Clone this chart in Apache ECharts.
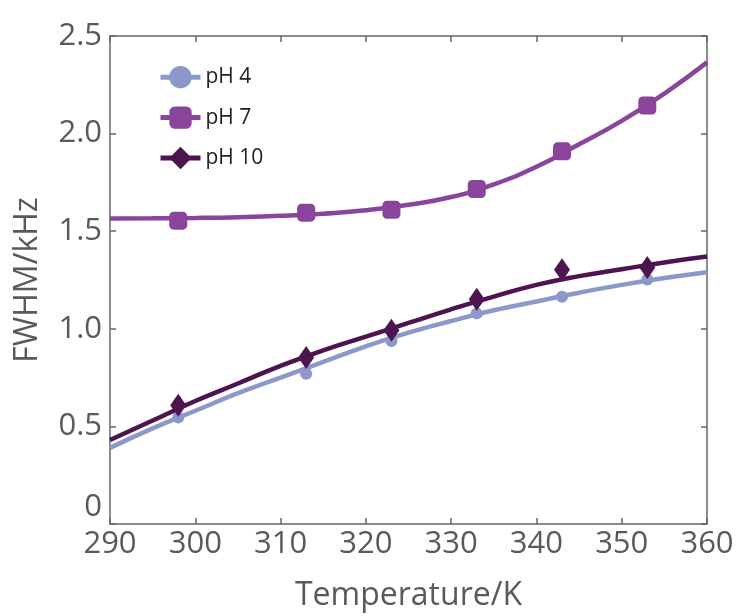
<!DOCTYPE html>
<html>
<head>
<meta charset="utf-8">
<script src="https://cdn.jsdelivr.net/npm/echarts@6/dist/echarts.min.js"></script>
<style>
  html, body { margin: 0; padding: 0; background: #fff; }
  #chart { width: 749px; height: 616px; }
</style>
</head>
<body>
<div id="chart"></div>
<script>
// Measured line widths (FWHM) at each temperature
const temps = [298, 313, 323, 333, 343, 353];
const ph4 = [0.545, 0.770, 0.938, 1.079, 1.164, 1.252];
const ph7 = [1.554, 1.595, 1.610, 1.716, 1.909, 2.144];
const ph10 = [0.608, 0.853, 0.993, 1.151, 1.303, 1.314];

// Fitted curves
const fitTemps = [290, 295, 300, 305, 310, 315, 320, 325, 330, 335, 340, 345, 350, 355, 360];
const fit4 = [0.39, 0.49, 0.58, 0.67, 0.75, 0.83, 0.91, 0.98, 1.04, 1.095, 1.14, 1.185, 1.225, 1.26, 1.29];
const fit7 = [1.565, 1.566, 1.568, 1.572, 1.579, 1.59, 1.607, 1.635, 1.675, 1.74, 1.83, 1.945, 2.065, 2.205, 2.365];
const fit10 = [0.43, 0.53, 0.63, 0.72, 0.81, 0.89, 0.96, 1.03, 1.10, 1.165, 1.225, 1.27, 1.305, 1.34, 1.37];

const seriesNames = ['pH 4', 'pH 7', 'pH 10'];
const xTicks = { min: 290, max: 360, step: 10 };
const yTicks = { min: 0, max: 2.5, step: 0.5 };

const FONT = "'Open Sans', sans-serif";
const AXIS_GREY = '#666666';
const LABEL_GREY = '#5a5a5a';
const colors = ['#8C98CA', '#8A449B', '#4E1450'];
const symbols = ['circle', 'roundRect', 'diamond'];
const markerSizes = [12, 18, [16, 23]];

const pairs = (xs, ys) => xs.map((x, i) => [x, ys[i]]);
const fits = [fit4, fit7, fit10];
const points = [ph4, ph7, ph10];

const boxAxis = (extra) => Object.assign({
  type: 'value',
  axisLine: { show: true, onZero: false, lineStyle: { color: AXIS_GREY, width: 1.5 } },
  axisTick: { show: true, inside: true, length: 6, lineStyle: { color: AXIS_GREY, width: 1.5 } },
  splitLine: { show: false }
}, extra);

const curveSeries = fits.map((f, i) => ({
  name: seriesNames[i],
  type: 'line',
  data: pairs(fitTemps, f),
  smooth: 0.5,
  symbol: symbols[i],
  showSymbol: false,
  lineStyle: { color: colors[i], width: 4.5 },
  itemStyle: { color: colors[i] },
  z: 2,
  silent: true
}));

const pointSeries = points.map((p, i) => ({
  name: seriesNames[i],
  type: 'scatter',
  data: pairs(temps, p),
  symbol: symbols[i],
  symbolSize: markerSizes[i],
  itemStyle: { color: colors[i], opacity: 1 },
  z: 3 + i
}));

const chart = echarts.init(document.getElementById('chart'), null, { renderer: 'canvas' });
chart.setOption({
  animation: false,
  backgroundColor: '#ffffff',
  textStyle: { fontFamily: FONT },
  grid: { left: 110, right: 42, top: 36, bottom: 92, containLabel: false, outerBoundsMode: 'none' },
  legend: {
    data: seriesNames,
    orient: 'vertical',
    left: 153,
    top: 61,
    itemWidth: 40,
    itemHeight: 28,
    itemGap: 18,
    lineStyle: { width: 5 },
    textStyle: { fontFamily: FONT, fontSize: 21, color: '#222222' },
    selectedMode: false
  },
  xAxis: [
    boxAxis({
      position: 'bottom',
      min: xTicks.min, max: xTicks.max, interval: xTicks.step,
      name: 'Temperature/K',
      nameLocation: 'middle',
      nameGap: 56,
      nameTextStyle: { fontFamily: FONT, fontSize: 32, color: LABEL_GREY },
      axisLabel: { fontFamily: FONT, fontSize: 31, color: LABEL_GREY, margin: 5 }
    }),
    boxAxis({
      position: 'top',
      min: xTicks.min, max: xTicks.max, interval: xTicks.step,
      axisLabel: { show: false }
    })
  ],
  yAxis: [
    boxAxis({
      position: 'left',
      min: yTicks.min, max: yTicks.max, interval: yTicks.step,
      name: 'FWHM/kHz',
      nameLocation: 'middle',
      nameGap: 66,
      nameTextStyle: { fontFamily: FONT, fontSize: 32, color: LABEL_GREY },
      axisLabel: {
        fontFamily: FONT, fontSize: 31, color: LABEL_GREY, margin: 8,
        formatter: v => (v === 0 ? '{zero|0}' : v.toFixed(1)),
        rich: { zero: { fontFamily: FONT, fontSize: 31, color: LABEL_GREY, padding: [0, 0, 34, 0] } }
      }
    }),
    boxAxis({
      position: 'right',
      min: yTicks.min, max: yTicks.max, interval: yTicks.step,
      axisLabel: { show: false }
    })
  ],
  series: curveSeries.concat(pointSeries)
});
</script>
</body>
</html>
